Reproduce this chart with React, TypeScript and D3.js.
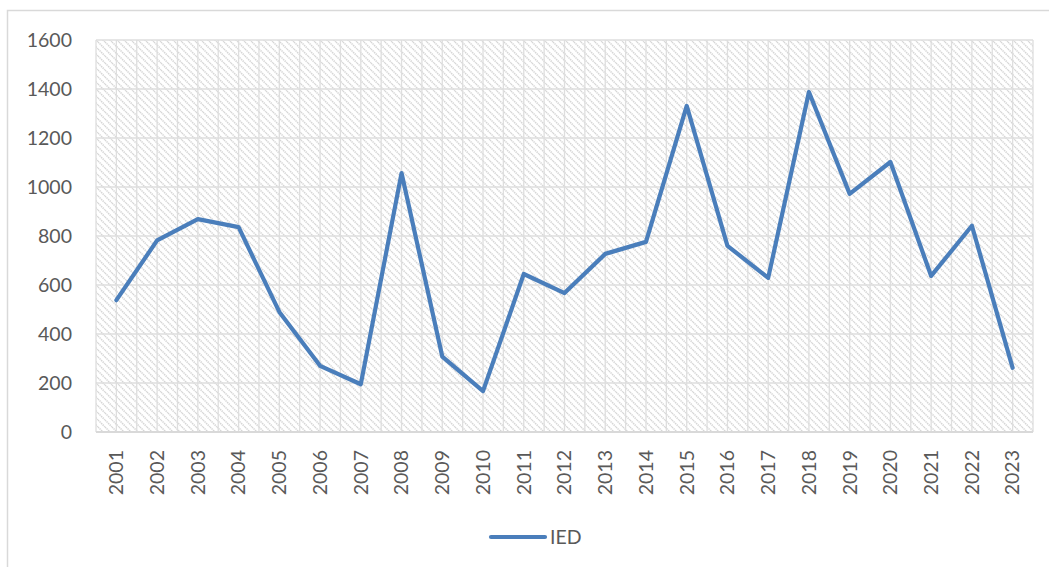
import React, { useEffect, useRef } from "react";
import * as d3 from "d3";

const years = [
  "2001", "2002", "2003", "2004", "2005", "2006", "2007", "2008", "2009", "2010", "2011", "2012",
  "2013", "2014", "2015", "2016", "2017", "2018", "2019", "2020", "2021", "2022", "2023",
];
const iedValues = [
  538, 782, 869, 836, 490, 270, 195, 1057, 308, 167, 645, 567,
  727, 776, 1331, 760, 629, 1388, 972, 1102, 637, 842, 262,
];
const yTicks = [0, 200, 400, 600, 800, 1000, 1200, 1400, 1600];
const seriesName = "IED";

export default function App() {
  const ref = useRef<SVGSVGElement>(null);

  useEffect(() => {
    const svg = d3.select(ref.current);
    svg.selectAll("*").remove();

    const W = 1049;
    const H = 567;
    const plot = { left: 96, right: 1033, top: 40, bottom: 432 };
    const font = "Lato, 'Open Sans', sans-serif";
    const textColor = "#595959";
    const gridColor = "#dedede";

    // chart frame (runs off the right and bottom edges)
    svg
      .append("rect")
      .attr("x", 7.5)
      .attr("y", 10.5)
      .attr("width", W + 20)
      .attr("height", H + 20)
      .attr("fill", "#fff")
      .attr("stroke", "#d9d9d9")
      .attr("stroke-width", 1.5);

    // hatched fill
    const defs = svg.append("defs");
    const pat = defs
      .append("pattern")
      .attr("id", "hatch")
      .attr("patternUnits", "userSpaceOnUse")
      .attr("width", 7)
      .attr("height", 7);
    pat.append("rect").attr("width", 7).attr("height", 7).attr("fill", "#fff");
    pat
      .append("path")
      .attr("d", "M0,0 L7,7 M-1,6 L1,8 M6,-1 L8,1")
      .attr("stroke", "#d6d6d6")
      .attr("stroke-width", 1.6)
      .attr("stroke-dasharray", "1.4,0.8");

    const x = d3
      .scaleBand()
      .domain(years)
      .range([plot.left, plot.right])
      .paddingInner(0)
      .paddingOuter(0);
    const y = d3.scaleLinear().domain([0, 1600]).range([plot.bottom, plot.top]);

    svg
      .append("rect")
      .attr("x", plot.left)
      .attr("y", plot.top)
      .attr("width", plot.right - plot.left)
      .attr("height", plot.bottom - plot.top)
      .attr("fill", "url(#hatch)");

    // vertical gridlines: category edges and centres
    const bw = x.bandwidth();
    const vLines: number[] = [];
    years.forEach((yr) => {
      vLines.push(x(yr)!);
      vLines.push(x(yr)! + bw / 2);
    });
    vLines.push(plot.right);
    svg
      .append("g")
      .selectAll("line")
      .data(vLines)
      .enter()
      .append("line")
      .attr("x1", (d) => d)
      .attr("x2", (d) => d)
      .attr("y1", plot.top)
      .attr("y2", plot.bottom)
      .attr("stroke", gridColor)
      .attr("stroke-width", 1.3);

    // horizontal gridlines
    svg
      .append("g")
      .selectAll("line")
      .data(yTicks)
      .enter()
      .append("line")
      .attr("x1", plot.left)
      .attr("x2", plot.right)
      .attr("y1", (d) => y(d))
      .attr("y2", (d) => y(d))
      .attr("stroke", (d) => (d === 0 ? "#d9d9d9" : gridColor))
      .attr("stroke-width", (d) => (d === 0 ? 1.8 : 1.3));

    // y labels
    svg
      .append("g")
      .selectAll("text")
      .data(yTicks)
      .enter()
      .append("text")
      .attr("x", 72)
      .attr("y", (d) => y(d))
      .attr("dy", "0.35em")
      .attr("text-anchor", "end")
      .attr("font-family", font)
      .attr("font-size", 19.5)
      .attr("fill", textColor)
      .text((d) => String(d));

    // x labels, rotated
    svg
      .append("g")
      .selectAll("text")
      .data(years)
      .enter()
      .append("text")
      .attr(
        "transform",
        (d) => `translate(${x(d)! + bw / 2},450) rotate(-90)`
      )
      .attr("dy", "0.35em")
      .attr("text-anchor", "end")
      .attr("font-family", font)
      .attr("font-size", 19.5)
      .attr("fill", textColor)
      .text((d) => d);

    // series line
    const line = d3
      .line<number>()
      .x((_, i) => x(years[i])! + bw / 2)
      .y((d) => y(d));
    svg
      .append("path")
      .datum(iedValues)
      .attr("d", line)
      .attr("fill", "none")
      .attr("stroke", "#4a7ebb")
      .attr("stroke-width", 4.2)
      .attr("stroke-linejoin", "round")
      .attr("stroke-linecap", "round");

    // legend
    svg
      .append("line")
      .attr("x1", 491)
      .attr("x2", 545)
      .attr("y1", 537)
      .attr("y2", 537)
      .attr("stroke", "#4a7ebb")
      .attr("stroke-width", 4.2)
      .attr("stroke-linecap", "round");
    svg
      .append("text")
      .attr("x", 550)
      .attr("y", 537)
      .attr("dy", "0.35em")
      .attr("font-family", font)
      .attr("font-size", 19.5)
      .attr("fill", textColor)
      .text(seriesName);
  }, []);

  return (
    <svg
      ref={ref}
      width={1049}
      height={567}
      style={{ position: "absolute", left: 0, top: 0, display: "block" }}
    />
  );
}
